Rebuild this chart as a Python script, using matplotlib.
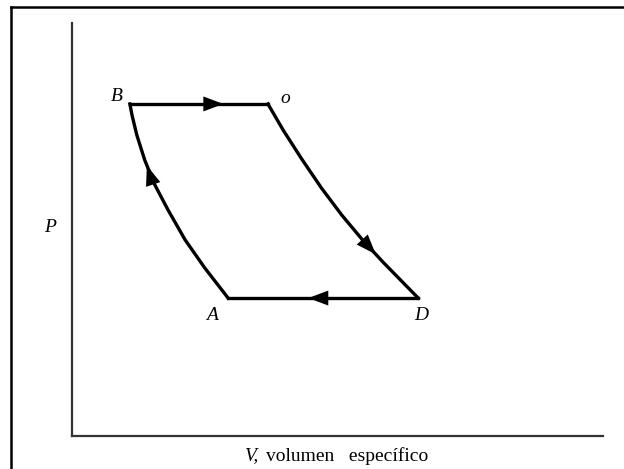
import matplotlib
matplotlib.use("Agg")
import matplotlib.pyplot as plt
from matplotlib.lines import Line2D

# Data (arbitrary units of specific volume V and pressure P)
state_labels = ["A", "B", "o", "D"]
state_V = [2.94, 1.09, 3.69, 6.52]
state_P = [3.34, 8.04, 8.04, 3.34]

# Curve A -> B (compression)
curve_AB_V = [2.94, 2.50, 2.13, 1.81, 1.56, 1.37, 1.22, 1.13, 1.09]
curve_AB_P = [3.34, 4.07, 4.75, 5.47, 6.08, 6.68, 7.29, 7.77, 8.04]

# Curve C -> D (expansion)
curve_CD_V = [3.69, 3.98, 4.33, 4.70, 5.08, 5.47, 5.85, 6.20, 6.52]
curve_CD_P = [8.04, 7.40, 6.70, 6.00, 5.35, 4.75, 4.22, 3.76, 3.34]

fig = plt.figure(figsize=(6.24, 4.69), dpi=100)
W, H = 624, 469
ax = fig.add_axes([72 / W, 1 - 436 / H, (603 - 72) / W, (436 - 23) / H])
ax.set_xlim(0, 10)
ax.set_ylim(0, 10)
for s in ["top", "right"]:
    ax.spines[s].set_visible(False)
for s in ["left", "bottom"]:
    ax.spines[s].set_linewidth(1.6)
    ax.spines[s].set_color("#333333")
ax.set_xticks([])
ax.set_yticks([])
ax.patch.set_alpha(0)

# outer frame (top and left edges visible)
fig.add_artist(Line2D([11 / W, 11 / W], [0, 1 - 7 / H], transform=fig.transFigure,
                      color="black", lw=1.8))
fig.add_artist(Line2D([11 / W, 1], [1 - 7 / H, 1 - 7 / H], transform=fig.transFigure,
                      color="black", lw=1.8))

lw = 2.4
A, B, C, D = [(v, p) for v, p in zip(state_V, state_P)]
ax.plot([B[0], C[0]], [B[1], C[1]], color="black", lw=lw, solid_capstyle="projecting")
ax.plot([D[0], A[0]], [D[1], A[1]], color="black", lw=lw, solid_capstyle="projecting")
ax.plot(curve_AB_V, curve_AB_P, color="black", lw=lw, solid_joinstyle="round")
ax.plot(curve_CD_V, curve_CD_P, color="black", lw=lw, solid_joinstyle="round")

def arrow(x0, y0, x1, y1):
    ax.annotate("", xy=(x1, y1), xytext=(x0, y0),
                arrowprops=dict(arrowstyle="-|>,head_length=1.2,head_width=0.45",
                                mutation_scale=12,
                                color="black", lw=0, shrinkA=0, shrinkB=0))

arrow(2.40, B[1], 2.85, B[1])       # B -> C
arrow(5.00, A[1], 4.45, A[1])       # D -> A
arrow(5.40, 4.85, 5.72, 4.40)       # C -> D
arrow(1.50, 6.20, 1.41, 6.55)       # A -> B

serif = ["Liberation Serif", "DejaVu Serif"]
fs = 14
lab_off = {"A": (-0.30, -0.42), "B": (-0.24, 0.18), "o": (0.32, 0.12), "D": (0.06, -0.42)}
for lab, v, p in zip(state_labels, state_V, state_P):
    dx, dy = lab_off[lab]
    ax.text(v + dx, p + dy, lab, family=serif, style="italic", fontsize=fs,
            ha="center", va="center")

fig.text(50 / W, 1 - 227 / H, "P", family=serif, style="italic", fontsize=fs,
         ha="center", va="center")
fig.text(259 / W, 1 - 456 / H, "V,", family=serif, style="italic", fontsize=fs,
         ha="right", va="center")
fig.text(266 / W, 1 - 456 / H, "volumen   específico", family=serif, fontsize=fs,
         ha="left", va="center")

fig.savefig("out.png", dpi=100)
